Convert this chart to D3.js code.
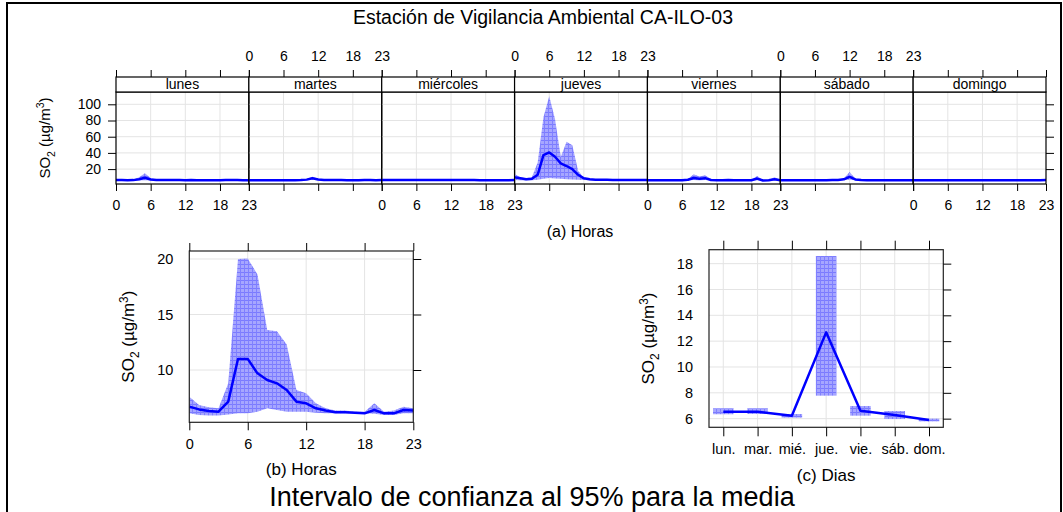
<!DOCTYPE html>
<html><head><meta charset="utf-8">
<script src="https://cdn.jsdelivr.net/npm/d3@7"></script>
<style>
body{margin:0;background:#fff}
text{font-family:"Liberation Sans",Arial,Helvetica,sans-serif;fill:#000}
</style>
</head><body>
<svg id="chart" width="1063" height="512"></svg>
<script>
// ---------------- DATA ----------------
const hours = d3.range(24);
const hourTicks = [0, 6, 12, 18, 23];
const dayNames = ["lunes", "martes", "miércoles", "jueves", "viernes", "sábado", "domingo"];
const dayShort = ["lun.", "mar.", "mié.", "jue.", "vie.", "sáb.", "dom."];

// (a) hour x weekday
const meanLunes = [6.5,6.4,6.3,6.4,7.4,9.4,7.2,6.5,6.4,6.4,6.4,6.4,6.3,6.4,6.3,6.3,6.3,6.3,6.3,6.4,6.5,6.4,6.3,6.3];
const upperLunes = [7.2,7.0,6.9,7.2,10.0,14.8,9.0,7.1,7.0,7.0,7.0,7.0,6.9,7.0,6.9,6.9,6.9,6.9,6.9,7.0,7.2,7.0,6.9,6.9];
const lowerLunes = [6.0,5.9,5.9,5.9,6.1,6.3,6.1,6.0,6.0,6.0,6.0,6.0,5.9,6.0,5.9,5.9,5.9,5.9,5.9,6.0,6.0,6.0,5.9,5.9];

const meanMartes = [6.3,6.3,6.3,6.3,6.3,6.3,6.3,6.3,6.3,6.4,7.0,8.6,7.2,6.6,6.5,6.4,6.4,6.3,6.3,6.3,6.4,6.4,6.3,6.4];
const upperMartes = [6.9,6.9,6.9,6.9,6.9,6.9,6.9,6.9,6.9,7.0,7.8,10.6,8.0,7.2,7.1,7.0,7.0,6.9,6.9,6.9,7.0,7.0,6.9,7.0];
const lowerMartes = [5.9,5.9,5.9,5.9,5.9,5.9,5.9,5.9,5.9,6.0,6.3,7.0,6.4,6.1,6.0,6.0,6.0,5.9,5.9,5.9,6.0,6.0,5.9,6.0];

const meanMiercoles = [6.5,6.5,6.4,6.4,6.4,6.4,6.5,6.5,6.5,6.5,6.6,6.5,6.5,6.4,6.4,6.4,6.4,6.3,6.3,6.3,6.3,6.2,6.2,6.4];
const upperMiercoles = [7.1,7.1,7.0,7.0,7.0,7.0,7.1,7.1,7.1,7.1,7.2,7.1,7.1,7.0,7.0,7.0,7.0,6.9,6.9,6.9,6.9,6.8,6.8,7.0];
const lowerMiercoles = [6.0,6.0,6.0,6.0,6.0,6.0,6.0,6.0,6.0,6.0,6.1,6.0,6.0,6.0,6.0,6.0,6.0,5.9,5.9,5.9,5.9,5.8,5.8,6.0];

const meanJueves = [9.8,8.6,7.4,8.0,13.0,37.3,40.6,35.2,27.0,23.8,20.0,13.0,8.6,7.4,7.0,6.8,6.7,6.6,6.5,6.5,6.5,6.5,6.5,6.5];
const upperJueves = [13.9,9.8,8.6,9.8,28.0,84.0,110.0,82.0,35.0,53.7,49.6,18.0,9.0,7.5,7.2,7.0,7.0,7.0,7.0,7.0,7.0,7.0,7.0,7.0];
const lowerJueves = [6.5,6.3,6.2,6.3,7.0,8.0,9.0,8.5,8.0,7.5,7.2,6.8,6.4,6.2,6.1,6.0,6.0,6.0,6.0,6.0,6.0,6.0,6.0,6.0];

const meanViernes = [6.3,6.2,6.2,6.2,6.2,6.2,6.3,6.8,9.0,8.0,8.8,6.6,6.3,6.3,6.4,6.3,6.2,6.2,6.3,8.3,6.0,6.3,7.4,6.2];
const upperViernes = [6.9,6.8,6.8,6.8,6.8,6.8,6.9,7.6,13.5,11.0,12.5,7.5,6.9,6.9,7.0,6.9,6.8,6.8,6.9,11.4,6.6,6.9,9.8,6.8];
const lowerViernes = [5.9,5.8,5.8,5.8,5.8,5.8,5.9,6.1,6.5,6.3,6.4,6.0,5.9,5.9,6.0,5.9,5.8,5.8,5.9,6.2,5.6,5.9,6.2,5.8];

const meanSabado = [6.2,6.2,6.2,6.2,6.2,6.2,6.2,6.2,6.3,6.4,6.6,7.4,10.5,7.2,6.5,6.3,6.2,6.2,6.2,6.2,6.2,6.2,6.2,6.2];
const upperSabado = [6.8,6.8,6.8,6.8,6.8,6.8,6.8,6.8,6.9,7.0,7.3,8.5,16.5,8.0,7.1,6.9,6.8,6.8,6.8,6.8,6.8,6.8,6.8,6.8];
const lowerSabado = [5.8,5.8,5.8,5.8,5.8,5.8,5.8,5.8,5.9,6.0,6.1,6.4,7.0,6.3,6.0,5.9,5.8,5.8,5.8,5.8,5.8,5.8,5.8,5.8];

const meanDomingo = [6.2,6.2,6.1,6.1,6.1,6.1,6.1,6.1,6.1,6.1,6.2,6.2,6.3,6.3,6.2,6.2,6.2,6.2,6.3,6.2,6.2,6.2,6.3,6.4];
const upperDomingo = [6.6,6.6,6.5,6.5,6.5,6.5,6.5,6.5,6.5,6.5,6.6,6.6,6.7,6.7,6.6,6.6,6.6,6.6,6.7,6.6,6.6,6.6,6.7,6.8];
const lowerDomingo = [5.9,5.9,5.8,5.8,5.8,5.8,5.8,5.8,5.8,5.8,5.9,5.9,6.0,6.0,5.9,5.9,5.9,5.9,6.0,5.9,5.9,5.9,6.0,6.1];

const yTicksA = [20, 40, 60, 80, 100];
const yLimitsA = [1.6, 115.2];

// (b) hour of day
const meanHour = [6.7,6.45,6.3,6.25,7.15,11.0,11.0,9.7,9.1,8.8,8.2,7.15,7.0,6.55,6.35,6.2,6.2,6.15,6.1,6.4,6.1,6.1,6.4,6.35];
const upperHour = [7.6,6.85,6.65,6.55,8.8,20.0,20.05,18.6,13.6,13.5,12.3,8.2,7.9,7.0,6.55,6.35,6.35,6.25,6.25,7.0,6.25,6.35,6.7,6.55];
const lowerHour = [6.1,5.95,5.9,5.9,6.0,6.1,6.1,6.25,6.55,6.4,6.25,6.25,6.25,6.15,6.1,6.1,6.1,6.1,6.1,6.05,5.95,5.95,6.1,6.1];
const yTicksB = [10, 15, 20];
const yLimitsB = [5.29, 20.72];

// (c) weekday
const meanDay = [6.54, 6.54, 6.23, 12.68, 6.62, 6.28, 5.9];
const upperDay = [6.8, 6.8, 6.36, 18.59, 6.98, 6.59, 6.0];
const lowerDay = [6.34, 6.36, 6.08, 7.78, 6.23, 5.97, 5.79];
const yTicksC = [6, 8, 10, 12, 14, 16, 18];
const yLimitsC = [5.33, 19.08];

const meanByDay = [meanLunes, meanMartes, meanMiercoles, meanJueves, meanViernes, meanSabado, meanDomingo];
const upperByDay = [upperLunes, upperMartes, upperMiercoles, upperJueves, upperViernes, upperSabado, upperDomingo];
const lowerByDay = [lowerLunes, lowerMartes, lowerMiercoles, lowerJueves, lowerViernes, lowerSabado, lowerDomingo];

// ---------------- DRAW ----------------
const svg = d3.select("#chart");
const FONT = '"Liberation Sans",Arial,Helvetica,sans-serif';
const LINE = "#0000ff";
const GRID = "#e4e4e4";

// CI fill pattern (light blue with a blue mesh)
const defs = svg.append("defs");
const pat = defs.append("pattern").attr("id", "ci").attr("patternUnits", "userSpaceOnUse")
  .attr("width", 4).attr("height", 4);
pat.append("rect").attr("width", 4).attr("height", 4).attr("fill", "#a6a6ff");
pat.append("rect").attr("width", 4).attr("height", 1).attr("fill", "#7a7aff");
pat.append("rect").attr("width", 1).attr("height", 4).attr("fill", "#8080ff");

// outer frame
svg.append("rect").attr("x", 7).attr("y", 3).attr("width", 1054).attr("height", 530)
  .attr("fill", "none").attr("stroke", "#000").attr("stroke-width", 2);

function styleAxis(g, fs) {
  g.select(".domain").remove();
  g.selectAll("line").attr("stroke", "#000").attr("stroke-width", 1);
  g.selectAll("text").style("font-size", fs + "px").style("font-family", FONT).attr("fill", "#000");
}

function yTitle(x, y, fs) {
  const t = svg.append("text").attr("transform", `translate(${x},${y}) rotate(-90)`)
    .attr("text-anchor", "middle").style("font-size", fs + "px");
  t.append("tspan").text("SO");
  t.append("tspan").attr("dy", fs * 0.3).style("font-size", (fs * 0.7) + "px").text("2");
  t.append("tspan").attr("dy", -fs * 0.3).text(" (µg/m");
  t.append("tspan").attr("dy", -fs * 0.38).style("font-size", (fs * 0.7) + "px").text("3");
  t.append("tspan").attr("dy", fs * 0.38).text(")");
}

// title
svg.append("text").attr("x", 543).attr("y", 24).attr("text-anchor", "middle")
  .style("font-size", "19.5px").text("Estación de Vigilancia Ambiental CA-ILO-03");

// ===== Panel (a) =====
const aLeft = 116, aRight = 1046, stripTop = 77, plotTop = 92, plotBot = 184;
const panelW = (aRight - aLeft) / 7;
const ya = d3.scaleLinear().domain(yLimitsA).range([plotBot, plotTop]);
const ga = svg.append("g");

dayNames.forEach((name, d) => {
  const x = d3.scaleLinear().domain([0, 23]).range([aLeft + d * panelW, aLeft + (d + 1) * panelW]);
  const g = ga.append("g");
  g.selectAll(".vg").data([6, 12, 18]).enter().append("line")
    .attr("x1", v => x(v)).attr("x2", v => x(v)).attr("y1", plotTop).attr("y2", plotBot)
    .attr("stroke", GRID).attr("stroke-width", 1);
  g.selectAll(".hg").data(yTicksA).enter().append("line")
    .attr("x1", x(0)).attr("x2", x(23)).attr("y1", v => ya(v)).attr("y2", v => ya(v))
    .attr("stroke", GRID).attr("stroke-width", 1);
  const area = d3.area().x(h => x(h)).y0(h => ya(lowerByDay[d][h])).y1(h => ya(upperByDay[d][h]));
  g.append("path").datum(hours).attr("d", area).attr("fill", "url(#ci)").attr("stroke", "none");
  const line = d3.line().x(h => x(h)).y(h => ya(meanByDay[d][h]));
  g.append("path").datum(hours).attr("d", line).attr("fill", "none").attr("stroke", LINE)
    .attr("stroke-width", 2.5).attr("stroke-linejoin", "round");
  g.append("rect").attr("x", x(0)).attr("y", plotTop).attr("width", panelW).attr("height", plotBot - plotTop)
    .attr("fill", "none").attr("stroke", "#000").attr("stroke-width", 1.2);
  g.append("rect").attr("x", x(0)).attr("y", stripTop).attr("width", panelW).attr("height", plotTop - stripTop)
    .attr("fill", "#fff").attr("stroke", "#000").attr("stroke-width", 1.2);
  g.append("text").attr("x", x(11.5)).attr("y", 88.5).attr("text-anchor", "middle")
    .style("font-size", "14px").text(name);
  const top = d3.axisTop(x).tickValues(hourTicks).tickSize(7).tickSizeOuter(0).tickPadding(9);
  const bot = d3.axisBottom(x).tickValues(hourTicks).tickSize(7).tickSizeOuter(0).tickPadding(9);
  if (d % 2 === 0) top.tickFormat(""); else bot.tickFormat("");
  g.append("g").attr("transform", `translate(0,${stripTop})`).call(top).call(s => styleAxis(s, 14));
  g.append("g").attr("transform", `translate(0,${plotBot})`).call(bot).call(s => styleAxis(s, 14));
});
ga.append("g").attr("transform", `translate(${aLeft},0)`)
  .call(d3.axisLeft(ya).tickValues(yTicksA).tickSize(8).tickPadding(7)).call(s => styleAxis(s, 14));
ga.append("g").attr("transform", `translate(${aRight},0)`)
  .call(d3.axisRight(ya).tickValues(yTicksA).tickSize(8).tickFormat("")).call(s => styleAxis(s, 14));
yTitle(50, 138, 15);
svg.append("text").attr("x", 580).attr("y", 237).attr("text-anchor", "middle")
  .style("font-size", "16px").text("(a) Horas");

// ===== Panel (b) =====
const bL = 189.3, bR = 413.3, bT = 251, bB = 422.3;
const xb = d3.scaleLinear().domain([0, 23]).range([bL, bR]);
const yb = d3.scaleLinear().domain(yLimitsB).range([bB, bT]);
const gb = svg.append("g");
gb.selectAll(".vg").data([6, 12, 18]).enter().append("line")
  .attr("x1", v => xb(v)).attr("x2", v => xb(v)).attr("y1", bT).attr("y2", bB)
  .attr("stroke", GRID);
gb.selectAll(".hg").data(yTicksB).enter().append("line")
  .attr("x1", bL).attr("x2", bR).attr("y1", v => yb(v)).attr("y2", v => yb(v))
  .attr("stroke", GRID);
gb.append("path").datum(hours)
  .attr("d", d3.area().x(h => xb(h)).y0(h => yb(lowerHour[h])).y1(h => yb(upperHour[h])))
  .attr("fill", "url(#ci)");
gb.append("path").datum(hours)
  .attr("d", d3.line().x(h => xb(h)).y(h => yb(meanHour[h])))
  .attr("fill", "none").attr("stroke", LINE).attr("stroke-width", 2.5).attr("stroke-linejoin", "round");
gb.append("rect").attr("x", bL).attr("y", bT).attr("width", bR - bL).attr("height", bB - bT)
  .attr("fill", "none").attr("stroke", "#222").attr("stroke-width", 1.2);
gb.append("g").attr("transform", `translate(0,${bB})`)
  .call(d3.axisBottom(xb).tickValues(hourTicks).tickSize(8).tickSizeOuter(0).tickPadding(8)).call(s => styleAxis(s, 14.5));
gb.append("g").attr("transform", `translate(0,${bT})`)
  .call(d3.axisTop(xb).tickValues(hourTicks).tickSize(8).tickSizeOuter(0).tickFormat("")).call(s => styleAxis(s, 14));
gb.append("g").attr("transform", `translate(${bL},0)`)
  .call(d3.axisLeft(yb).tickValues(yTicksB).tickSize(0).tickPadding(16)).call(s => styleAxis(s, 14.5));
gb.append("g").attr("transform", `translate(${bR},0)`)
  .call(d3.axisRight(yb).tickValues(yTicksB).tickSize(8).tickFormat("")).call(s => styleAxis(s, 14));
yTitle(134, (bT + bB) / 2, 17);
svg.append("text").attr("x", (bL + bR) / 2).attr("y", 475).attr("text-anchor", "middle")
  .style("font-size", "17px").text("(b) Horas");

// ===== Panel (c) =====
const cL = 709, cR = 943.3, cT = 249.7, cB = 427.3;
const xc = d3.scalePoint().domain(dayShort).range([cL, cR]).padding(0.417);
const yc = d3.scaleLinear().domain(yLimitsC).range([cB, cT]);
const gc = svg.append("g");
gc.selectAll(".vg").data(dayShort).enter().append("line")
  .attr("x1", v => xc(v)).attr("x2", v => xc(v)).attr("y1", cT).attr("y2", cB).attr("stroke", GRID);
gc.selectAll(".hg").data(yTicksC).enter().append("line")
  .attr("x1", cL).attr("x2", cR).attr("y1", v => yc(v)).attr("y2", v => yc(v)).attr("stroke", GRID);
const bw = xc.step() * 0.6;
gc.selectAll(".ci").data(dayShort).enter().append("rect")
  .attr("x", (v) => xc(v) - bw / 2).attr("width", bw)
  .attr("y", (v, i) => yc(upperDay[i])).attr("height", (v, i) => yc(lowerDay[i]) - yc(upperDay[i]))
  .attr("fill", "url(#ci)");
gc.append("path").datum(dayShort)
  .attr("d", d3.line().x(v => xc(v)).y((v, i) => yc(meanDay[i])))
  .attr("fill", "none").attr("stroke", LINE).attr("stroke-width", 2.5).attr("stroke-linejoin", "round");
gc.append("rect").attr("x", cL).attr("y", cT).attr("width", cR - cL).attr("height", cB - cT)
  .attr("fill", "none").attr("stroke", "#222").attr("stroke-width", 1.2);
gc.append("g").attr("transform", `translate(0,${cB})`)
  .call(d3.axisBottom(xc).tickSize(9).tickSizeOuter(0).tickPadding(7)).call(s => styleAxis(s, 14.5));
gc.append("g").attr("transform", `translate(0,${cT})`)
  .call(d3.axisTop(xc).tickSize(9).tickSizeOuter(0).tickFormat("")).call(s => styleAxis(s, 14));
gc.append("g").attr("transform", `translate(${cL},0)`)
  .call(d3.axisLeft(yc).tickValues(yTicksC).tickSize(0).tickPadding(16)).call(s => styleAxis(s, 14.5));
gc.append("g").attr("transform", `translate(${cR},0)`)
  .call(d3.axisRight(yc).tickValues(yTicksC).tickSize(8).tickFormat("")).call(s => styleAxis(s, 14));
yTitle(654, (cT + cB) / 2, 17);
svg.append("text").attr("x", (cL + cR) / 2).attr("y", 481).attr("text-anchor", "middle")
  .style("font-size", "17px").text("(c) Dias");

// caption
svg.append("text").attr("x", 532).attr("y", 506).attr("text-anchor", "middle")
  .style("font-size", "27px").text("Intervalo de confianza al 95% para la media");
</script>
</body></html>
